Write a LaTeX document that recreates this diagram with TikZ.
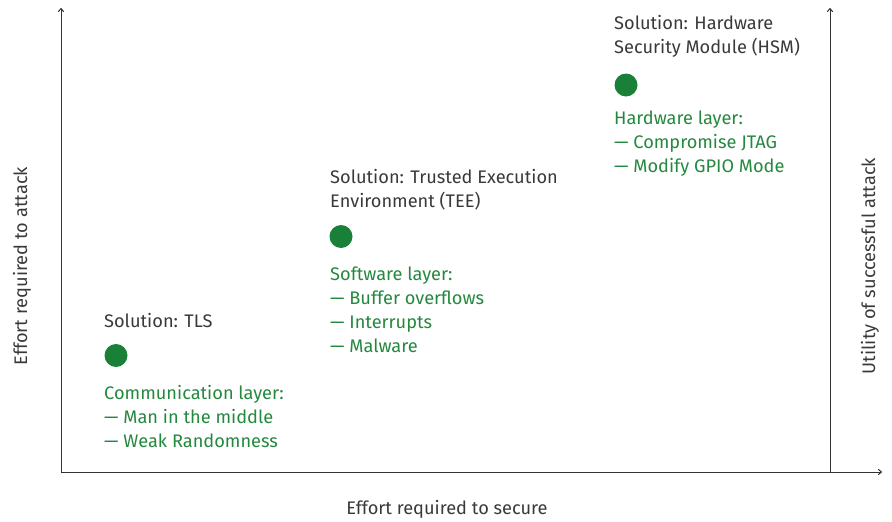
\documentclass[tikz,border=0pt]{standalone}
\usepackage{fontspec}
\setmainfont{Fira Sans}
\usetikzlibrary{arrows.meta}
\definecolor{txtgray}{HTML}{393939}
\definecolor{axgray}{HTML}{333333}
\definecolor{grntxt}{HTML}{24883F}
\definecolor{grndot}{HTML}{198038}
\tikzset{
  lbl/.style={anchor=base west, inner sep=0pt, font=\fontsize{18.2}{24}\selectfont, text=txtgray},
  grn/.style={lbl, text=grntxt},
  dot/.style={circle, fill=grndot, minimum size=23pt, inner sep=0pt},
  axis/.style={draw=axgray, line width=1pt, -{To[length=4pt,width=6pt]}},
  axlbl/.style={inner sep=0pt, font=\fontsize{18.2}{22}\selectfont, text=txtgray}
}
\begin{document}
\begin{tikzpicture}[x=1pt,y=-1pt]
\useasboundingbox (0,0) rectangle (892,522);
\coordinate (o) at (61,472);
\coordinate (ytop) at (61,8);
\coordinate (xend) at (882,472);
\coordinate (r0) at (830,472);
\coordinate (rtop) at (830,8);
\draw[axis] (o) -- (ytop);
\draw[axis] (o) -- (xend);
\draw[axis] (r0) -- (rtop);
\node[axlbl] (xl) at (447,509) {Effort required to secure};
\node[axlbl, rotate=90] (yl) at (22,266) {Effort required to attack};
\node[axlbl, rotate=90] (rl) at (870,266) {Utility of successful attack};
% TLS
\node[lbl] (s1a) at (104,327) {Solution: TLS};
\node[dot] (d1) at (116,355.5) {};
\node[grn] (g1a) at (104,399) {Communication layer:};
\node[grn] (g1b) at (104,423) {— Man in the middle};
\node[grn] (g1c) at (104,447) {— Weak Randomness};
% TEE
\node[lbl] (s2a) at (330,183) {Solution: Trusted Execution};
\node[lbl] (s2b) at (330,207) {Environment (TEE)};
\node[dot] (d2) at (341,236.5) {};
\node[grn] (g2a) at (330,280) {Software layer:};
\node[grn] (g2b) at (330,304) {— Buffer overflows};
\node[grn] (g2c) at (330,328) {— Interrupts};
\node[grn] (g2d) at (330,352) {— Malware};
% HSM
\node[lbl] (s3a) at (614,29) {Solution: Hardware};
\node[lbl] (s3b) at (614,53) {Security Module (HSM)};
\node[dot] (d3) at (626,85) {};
\node[grn] (g3a) at (614,124.5) {Hardware layer:};
\node[grn] (g3b) at (614,148.5) {— Compromise JTAG};
\node[grn] (g3c) at (614,172.5) {— Modify GPIO Mode};
\end{tikzpicture}
\end{document}
